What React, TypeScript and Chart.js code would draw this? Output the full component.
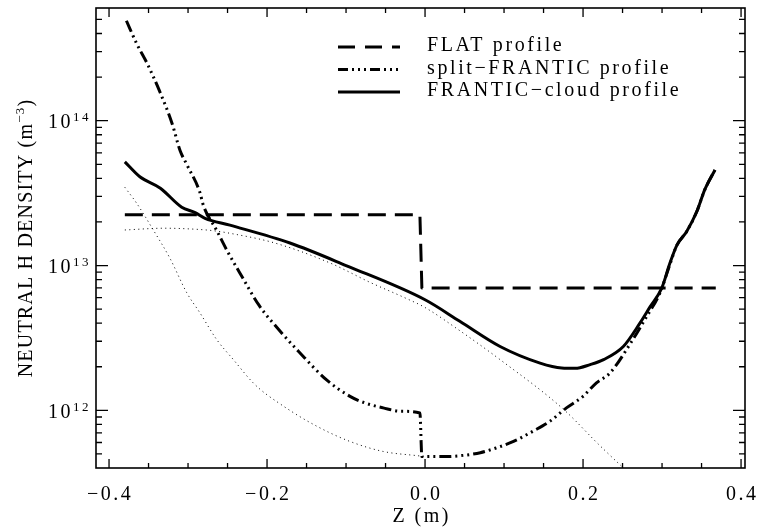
import React, { useEffect, useRef } from "react";
import { Chart, registerables } from "chart.js";

Chart.register(...registerables);

// ---------- data ----------
const FLAT_X = [-0.38, -0.0065, -0.004, 0.368];
const FLAT_Y = [2.24e13, 2.24e13, 7.0e12, 7.0e12];

const SPLIT_X = [
  -0.378, -0.365, -0.352, -0.336, -0.32, -0.31, -0.3017, -0.285, -0.2806, -0.264,
  -0.25, -0.235, -0.21, -0.185, -0.16, -0.125, -0.095, -0.075, -0.053, -0.03,
  -0.0065, -0.004, 0.027, 0.05, 0.07, 0.09, 0.112, 0.137, 0.158, 0.179,
  0.2, 0.217, 0.234, 0.26, 0.28, 0.2975, 0.31, 0.319, 0.331, 0.344, 0.354, 0.367,
];
const SPLIT_Y = [
  4.9e14, 3.4e14, 2.5e14, 1.6e14, 9.5e13, 6.2e13, 5.0e13, 3.2e13, 2.6e13, 1.76e13,
  1.25e13, 9.0e12, 5.3e12, 3.6e12, 2.55e12, 1.63e12, 1.25e12, 1.12e12, 1.04e12, 9.85e11,
  9.6e11, 4.8e11, 4.8e11, 4.9e11, 5.1e11, 5.5e11, 6.1e11, 7.2e11, 8.4e11, 1.04e12,
  1.25e12, 1.55e12, 1.81e12, 2.9e12, 4.4e12, 6.5e12, 1.02e13, 1.39e13, 1.71e13, 2.36e13, 3.33e13, 4.57e13,
];

const CLOUD_X = [
  -0.38, -0.361, -0.335, -0.308, -0.291, -0.2785, -0.247, -0.171, -0.1,
  0.0, 0.044, 0.095, 0.1456, 0.173, 0.19, 0.209, 0.226,
  0.251, 0.272, 0.285, 0.2996, 0.31, 0.319, 0.331, 0.344, 0.354, 0.367,
];
const CLOUD_Y = [
  5.2e13, 4.1e13, 3.42e13, 2.53e13, 2.32e13, 2.12e13, 1.9e13, 1.43e13, 1.0e13,
  5.8e12, 4.12e12, 2.76e12, 2.12e12, 1.96e12, 1.95e12, 2.07e12, 2.24e12,
  2.76e12, 4.0e12, 5.2e12, 6.98e12, 1.04e13, 1.39e13, 1.71e13, 2.36e13, 3.33e13, 4.57e13,
];

// thin dotted components
const UNIFORM_X = [
  -0.38, -0.33, -0.29, -0.268, -0.247, -0.19, -0.12, -0.07, -0.023,
  0.0, 0.044, 0.095, 0.175, 0.22, 0.26,
];
const UNIFORM_Y = [
  1.76e13, 1.81e13, 1.78e13, 1.74e13, 1.67e13, 1.43e13, 1.04e13, 7.67e12, 5.9e12,
  5.13e12, 3.55e12, 2.24e12, 1.02e12, 5.8e11, 3.6e11,
];

const LEFT_X = [
  -0.38, -0.365, -0.344, -0.3228, -0.3017, -0.2848, -0.2637, -0.2426, -0.215, -0.1793,
  -0.137, -0.095, -0.0528, -0.0105, 0.0,
];
const LEFT_Y = [
  3.47e13, 2.69e13, 1.76e13, 1.12e13, 6.5e12, 4.7e12, 3.08e12, 2.24e12, 1.5e12, 1.07e12,
  7.77e11, 6.1e11, 5.2e11, 4.87e11, 4.8e11,
];

// ---------- axes ----------
const X_MIN = -0.4165;
const X_MAX = 0.405;
const Y_MIN = 4e11;
const Y_MAX = 6e14;
const X_MAJOR = [-0.4, -0.2, 0.0, 0.2, 0.4];
const X_LABELS = ["\u22120.4", "\u22120.2", "0.0", "0.2", "0.4"];
const X_MINOR = [-0.35, -0.3, -0.25, -0.15, -0.1, -0.05, 0.05, 0.1, 0.15, 0.25, 0.3, 0.35];
const Y_MAJOR = [1e12, 1e13, 1e14];
const Y_EXPONENTS = ["12", "13", "14"];
const Y_MINOR = [
  5e11, 6e11, 7e11, 8e11, 9e11,
  2e12, 3e12, 4e12, 5e12, 6e12, 7e12, 8e12, 9e12,
  2e13, 3e13, 4e13, 5e13, 6e13, 7e13, 8e13, 9e13,
  2e14, 3e14, 4e14, 5e14,
];
const X_TITLE = "Z (m)";
const Y_TITLE_MAIN = "NEUTRAL H DENSITY (m";
const Y_TITLE_SUP = "\u22123";
const Y_TITLE_END = ")";

const LEGEND_LABELS = ["FLAT profile", "split\u2212FRANTIC profile", "FRANTIC\u2212cloud profile"];
const LEGEND_DASHES = [[17, 10], [10, 4, 2, 4, 2, 4, 2, 4], []];

const FONT = '"Liberation Serif", "Times New Roman", serif';

function pts(xs: number[], ys: number[]) {
  return xs.map((x, i) => ({ x, y: ys[i] }));
}

const framePlugin = {
  id: "idlFrame",
  afterDraw(chart: any) {
    const { ctx, chartArea: a } = chart;
    const xs = chart.scales.x;
    const ys = chart.scales.y;
    ctx.save();
    ctx.setLineDash([]);
    ctx.strokeStyle = "#000";
    ctx.fillStyle = "#000";

    // frame
    ctx.lineWidth = 1.6;
    ctx.strokeRect(a.left, a.top, a.right - a.left, a.bottom - a.top);

    // ticks
    ctx.lineWidth = 1.3;
    ctx.beginPath();
    const xt = (v: number, len: number) => {
      const p = xs.getPixelForValue(v);
      ctx.moveTo(p, a.bottom);
      ctx.lineTo(p, a.bottom - len);
      ctx.moveTo(p, a.top);
      ctx.lineTo(p, a.top + len);
    };
    const yt = (v: number, len: number) => {
      const p = ys.getPixelForValue(v);
      ctx.moveTo(a.left, p);
      ctx.lineTo(a.left + len, p);
      ctx.moveTo(a.right, p);
      ctx.lineTo(a.right - len, p);
    };
    X_MAJOR.forEach((v) => xt(v, 9));
    X_MINOR.forEach((v) => xt(v, 5));
    Y_MAJOR.forEach((v) => yt(v, 12));
    Y_MINOR.forEach((v) => yt(v, 6));
    ctx.stroke();

    // x tick labels
    (ctx as any).letterSpacing = "2.5px";
    ctx.font = `20px ${FONT}`;
    ctx.textAlign = "center";
    ctx.textBaseline = "alphabetic";
    X_MAJOR.forEach((v, i) => {
      const p = xs.getPixelForValue(v);
      ctx.fillText(X_LABELS[i], p + 1.2, 499.5);
    });

    // x title
    ctx.fillText(X_TITLE, (a.left + a.right) / 2 + 1.2, 521.5);

    // y tick labels 10^n
    ctx.textAlign = "left";
    Y_MAJOR.forEach((v, i) => {
      const p = ys.getPixelForValue(v);
      ctx.font = `13px ${FONT}`;
      const ew = ctx.measureText(Y_EXPONENTS[i]).width;
      const ex = 91 - ew;
      ctx.fillText(Y_EXPONENTS[i], ex, p + 0.5);
      ctx.font = `20px ${FONT}`;
      const bw = ctx.measureText("10").width;
      ctx.fillText("10", ex - bw, p + 7.5);
    });

    // y title (rotated)
    ctx.save();
    (ctx as any).letterSpacing = "1.2px";
    ctx.translate(32, (a.top + a.bottom) / 2);
    ctx.rotate(-Math.PI / 2);
    ctx.font = `20px ${FONT}`;
    const w1 = ctx.measureText(Y_TITLE_MAIN).width;
    const w3 = ctx.measureText(Y_TITLE_END).width;
    ctx.font = `13px ${FONT}`;
    const w2 = ctx.measureText(Y_TITLE_SUP).width;
    let cx = -(w1 + w2 + w3) / 2;
    ctx.font = `20px ${FONT}`;
    ctx.fillText(Y_TITLE_MAIN, cx, 0);
    cx += w1;
    ctx.font = `13px ${FONT}`;
    ctx.fillText(Y_TITLE_SUP, cx, -8);
    cx += w2;
    ctx.font = `20px ${FONT}`;
    ctx.fillText(Y_TITLE_END, cx, 0);
    ctx.restore();

    // legend
    (ctx as any).letterSpacing = "2.6px";
    ctx.font = `20px ${FONT}`;
    const rowLine = [47, 69.5, 92];
    LEGEND_LABELS.forEach((lab, i) => {
      ctx.save();
      ctx.lineWidth = 3;
      ctx.lineCap = "butt";
      ctx.setLineDash(LEGEND_DASHES[i]);
      ctx.beginPath();
      ctx.moveTo(338, rowLine[i]);
      ctx.lineTo(400, rowLine[i]);
      ctx.stroke();
      ctx.restore();
      ctx.fillText(lab, 427, rowLine[i] + 4);
    });

    (ctx as any).letterSpacing = "0px";
    ctx.restore();
  },
};

export default function App() {
  const ref = useRef<HTMLCanvasElement | null>(null);

  useEffect(() => {
    if (!ref.current) return;
    const common = { pointRadius: 0, borderColor: "#000", fill: false, borderCapStyle: "butt" as const, borderJoinStyle: "round" as const };
    const chart = new Chart(ref.current, {
      type: "scatter",
      data: {
        datasets: [
          { ...common, label: LEGEND_LABELS[0], data: pts(FLAT_X, FLAT_Y), showLine: true, borderWidth: 3, borderDash: [18, 9] },
          { ...common, label: LEGEND_LABELS[1], data: pts(SPLIT_X, SPLIT_Y), showLine: true, borderWidth: 3, borderDash: [12, 4, 2, 4, 2, 4, 2, 4], cubicInterpolationMode: "monotone" },
          { ...common, label: LEGEND_LABELS[2], data: pts(CLOUD_X, CLOUD_Y), showLine: true, borderWidth: 3, cubicInterpolationMode: "monotone" },
          { ...common, label: "uniform", data: pts(UNIFORM_X, UNIFORM_Y), showLine: true, borderWidth: 1, borderDash: [1, 3.5], cubicInterpolationMode: "monotone" },
          { ...common, label: "left", data: pts(LEFT_X, LEFT_Y), showLine: true, borderWidth: 1, borderDash: [1, 3.5], cubicInterpolationMode: "monotone" },
        ],
      },
      options: {
        responsive: false,
        animation: false,
        devicePixelRatio: 1,
        layout: { padding: { top: 8, right: 12, left: 0, bottom: 0 } },
        plugins: { legend: { display: false }, tooltip: { enabled: false }, title: { display: false } },
        events: [],
        scales: {
          x: {
            type: "linear",
            min: X_MIN,
            max: X_MAX,
            grid: { display: false },
            border: { display: false },
            ticks: { display: false },
            afterFit: (s: any) => { s.height = 64; },
          },
          y: {
            type: "logarithmic",
            min: Y_MIN,
            max: Y_MAX,
            grid: { display: false },
            border: { display: false },
            ticks: { display: false },
            afterFit: (s: any) => { s.width = 96; },
          },
        },
      },
      plugins: [framePlugin],
    });
    return () => chart.destroy();
  }, []);

  return (
    <div style={{ position: "fixed", left: 0, top: 0, width: 757, height: 532, background: "#fff" }}>
      <canvas ref={ref} width={757} height={532} style={{ width: 757, height: 532, display: "block" }} />
    </div>
  );
}
